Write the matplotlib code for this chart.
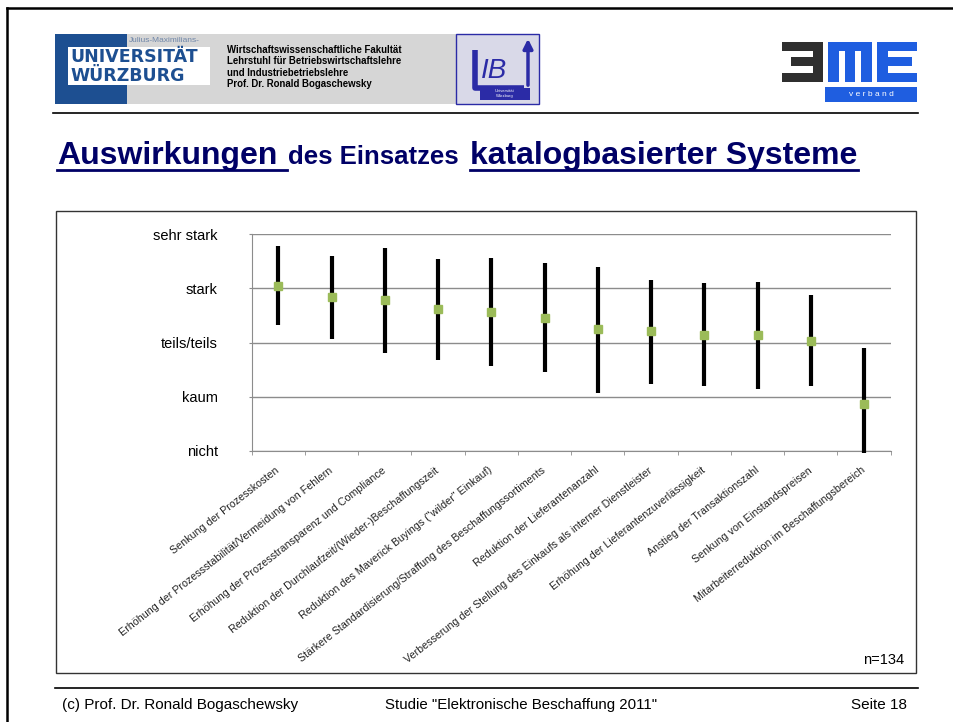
import matplotlib.pyplot as plt
import numpy as np
from matplotlib.patches import Rectangle

plt.rcParams["font.family"] = ["Liberation Sans", "DejaVu Sans"]

# survey answers, rated from 0 (nicht) to 4 (sehr stark)
levels = ["nicht", "kaum", "teils/teils", "stark", "sehr stark"]
categories = [
    "Senkung der Prozesskosten",
    "Erhöhung der Prozessstabilität/Vermeidung von Fehlern",
    "Erhöhung der Prozesstransparenz und Compliance",
    "Reduktion der Durchlaufzeit/(Wieder-)Beschaffungszeit",
    'Reduktion des Maverick Buyings ("wilder" Einkauf)',
    "Stärkere Standardisierung/Straffung des Beschaffungssortiments",
    "Reduktion der Lieferantenanzahl",
    "Verbesserung der Stellung des Einkaufs als interner Dienstleister",
    "Erhöhung der Lieferantenzuverlässigkeit",
    "Anstieg der Transaktionszahl",
    "Senkung von Einstandspreisen",
    "Mitarbeiterreduktion im Beschaffungsbereich",
]
means = [3.05, 2.83, 2.78, 2.61, 2.57, 2.46, 2.24, 2.21, 2.14, 2.13, 2.03, 0.87]
lows = [2.32, 2.06, 1.81, 1.68, 1.57, 1.46, 1.06, 1.24, 1.20, 1.15, 1.19, -0.03]
highs = [3.78, 3.59, 3.74, 3.54, 3.56, 3.47, 3.40, 3.15, 3.10, 3.12, 2.87, 1.90]
n_label = "n=134"

W, H = 954, 722
fig = plt.figure(figsize=(W / 100, H / 100), dpi=100)

# background layer in pixel coordinates (slide decoration)
bg = fig.add_axes([0, 0, 1, 1], zorder=0)
bg.set_xlim(0, W)
bg.set_ylim(H, 0)
bg.axis("off")

# slide frame
bg.plot([7, 7], [8, H], color="black", lw=1.8)
bg.plot([7, W], [8, 8], color="black", lw=1.8)

# --- header: university logo ---
bg.add_patch(Rectangle((127, 34), 329, 70, color="#d6d6d6", lw=0))
bg.add_patch(Rectangle((55, 34), 72, 70, color="#1d4f91", lw=0))
bg.add_patch(Rectangle((68, 47), 142, 38, color="white", lw=0))
bg.text(129, 40, "Julius-Maximilians-", fontsize=6, color="#6f86a8", va="center")
bg.text(70, 57, "UNIVERSITÄT", fontsize=12.5, fontweight="bold", color="#1d4f91",
        va="center", family=["DejaVu Sans"])
bg.text(70, 76, "WÜRZBURG", fontsize=12.5, fontweight="bold", color="#1d4f91",
        va="center", family=["DejaVu Sans"])
header_lines = [
    "Wirtschaftswissenschaftliche Fakultät",
    "Lehrstuhl für Betriebswirtschaftslehre",
    "und Industriebetriebslehre",
    "Prof. Dr. Ronald Bogaschewsky",
]
for i, line in enumerate(header_lines):
    bg.text(227, 50 + i * 11.3, line, fontsize=6.9, fontweight="bold", va="center")

# LIB logo
blue = "#2b2ba6"
bg.add_patch(Rectangle((456, 34), 83, 70, facecolor="#d9d9e8", edgecolor=blue, lw=1))
bg.plot([475.5, 475.5, 524], [50, 88, 88], color=blue, lw=4, solid_capstyle="butt")
bg.text(481, 71, "IB", fontsize=20, style="italic", color=blue, va="center")
bg.annotate("", xy=(528, 36), xytext=(528, 88),
            arrowprops=dict(arrowstyle="-|>", color=blue, lw=2.5, mutation_scale=14))
bg.add_patch(Rectangle((480, 88), 50, 12, color=blue, lw=0))
bg.text(505, 91.5, "Universität", fontsize=3, color="white", ha="center", va="center")
bg.text(505, 96.5, "Würzburg", fontsize=3, color="white", ha="center", va="center")

# BME logo, drawn from blocks
grey, bme = "#2f2f2f", "#1f5ee0"
for x0, y0, w, h in [(782, 42, 41, 9), (791, 57, 32, 9), (782, 73, 41, 9), (813, 42, 10, 40)]:
    bg.add_patch(Rectangle((x0, y0), w, h, color=grey, lw=0))
for x0, y0, w, h in [(828, 42, 44, 9), (828, 42, 11, 40), (845, 42, 10, 40), (861, 42, 11, 40),
                     (877, 42, 40, 9), (877, 42, 11, 40), (877, 57, 35, 9), (877, 73, 40, 9)]:
    bg.add_patch(Rectangle((x0, y0), w, h, color=bme, lw=0))
bg.add_patch(Rectangle((825, 87), 92, 15, color=bme, lw=0))
bg.text(871, 94.5, "v e r b a n d", fontsize=6, color="white", ha="center", va="center")

bg.plot([53, 918], [112.7, 112.7], color="black", lw=1.2)

# --- title ---
navy = "#000066"
bg.text(57, 164, "Auswirkungen", fontsize=23, fontweight="bold", color=navy)
bg.text(288, 164, "des Einsatzes", fontsize=18.5, fontweight="bold", color=navy)
bg.text(470, 164, "katalogbasierter Systeme", fontsize=23, fontweight="bold", color=navy)
bg.plot([57, 287], [169.5, 169.5], color=navy, lw=2)
bg.plot([470, 858], [169.5, 169.5], color=navy, lw=2)

# chart frame
bg.add_patch(Rectangle((56, 211), 860, 462, facecolor="white", edgecolor="#333333", lw=1))
bg.text(904, 660, n_label, fontsize=10.5, ha="right", va="center")

# --- footer ---
bg.plot([55, 918], [688, 688], color="black", lw=1.2)
bg.text(62, 705, "(c) Prof. Dr. Ronald Bogaschewsky", fontsize=11, va="center")
bg.text(385, 705, 'Studie "Elektronische Beschaffung 2011"', fontsize=10.8, va="center")
bg.text(907, 705, "Seite 18", fontsize=11, ha="right", va="center")

# --- chart ---
left, right, top, bottom = 251.7, 890.7, 234, 451
ax = fig.add_axes([left / W, 1 - bottom / H, (right - left) / W, (bottom - top) / H], zorder=2)
ax.patch.set_alpha(0)

x = np.arange(len(categories))
ax.vlines(x, lows, highs, color="black", lw=3, clip_on=False, zorder=3)
ax.plot(x, means, ls="none", marker="s", ms=5.8, color="#9bbb59", mec="#9bbb59", zorder=4)

ax.set_xlim(-0.5, len(categories) - 0.5)
ax.set_ylim(0, 4)
ax.set_yticks(range(len(levels)))
ax.set_yticklabels(levels, fontsize=10.5)
ax.yaxis.grid(True, color="#8c8c8c", lw=1)
ax.set_axisbelow(True)
ax.tick_params(axis="y", length=2.5, color="#8c8c8c", pad=22)

ax.set_xticks(x)
ax.set_xticklabels(categories, fontsize=7.7, rotation=38, ha="right", va="center",
                   rotation_mode="anchor", color="#222222")
ax.set_xticks(np.arange(len(categories) + 1) - 0.5, minor=True)
ax.tick_params(axis="x", which="major", length=0, pad=13)
ax.tick_params(axis="x", which="minor", length=3, color="#8c8c8c")

for side in ("top", "right"):
    ax.spines[side].set_visible(False)
for side in ("left", "bottom"):
    ax.spines[side].set_color("#8c8c8c")

fig.savefig("out.png", dpi=100)
